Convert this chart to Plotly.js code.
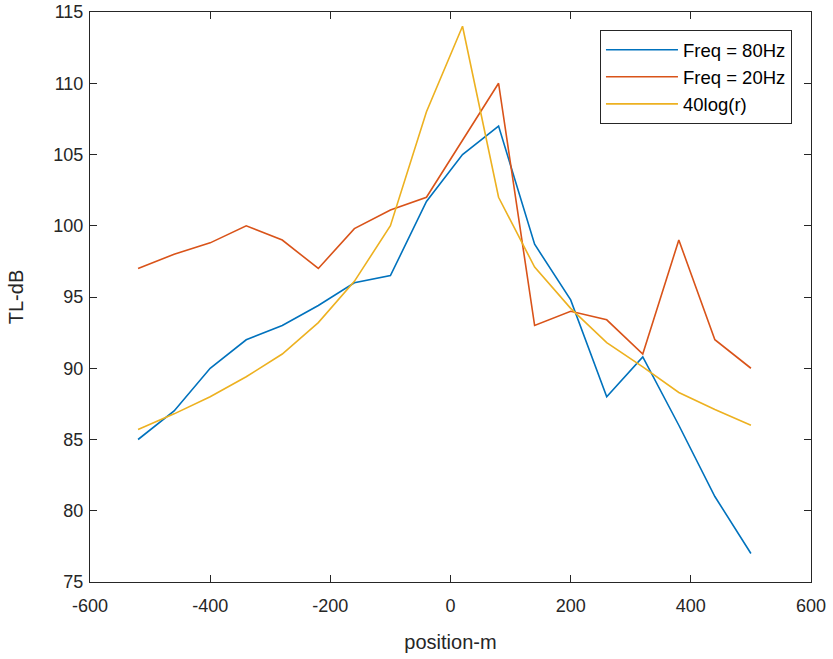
<!DOCTYPE html>
<html>
<head>
<meta charset="utf-8">
<script src="https://cdn.plot.ly/plotly-3.0.1.min.js"></script>
<style>html,body{margin:0;padding:0;background:#fff;}</style>
</head>
<body>
<div id="chart" style="width:833px;height:659px;"></div>
<script>
const positions = [-520, -460, -400, -340, -280, -220, -160, -100, -40, 20, 80, 140, 200, 260, 320, 380, 440, 500];
const freq80 = [85.0, 87.0, 90.0, 92.0, 93.0, 94.4, 96.0, 96.5, 101.7, 105.0, 107.0, 98.7, 94.8, 88.0, 90.8, 86.0, 81.0, 77.0];
const freq20 = [97.0, 98.0, 98.8, 100.0, 99.0, 97.0, 99.8, 101.1, 102.0, 106.0, 110.0, 93.0, 94.0, 93.4, 91.0, 99.0, 92.0, 90.0];
const log40 = [85.7, 86.8, 88.0, 89.4, 91.0, 93.2, 96.1, 100.0, 108.0, 114.0, 102.0, 97.1, 94.2, 91.8, 90.1, 88.3, 87.1, 86.0];
const seriesNames = ['Freq = 80Hz', 'Freq = 20Hz', '40log(r)'];
const xTicks = [-600, -400, -200, 0, 200, 400, 600];
const yTicks = [75, 80, 85, 90, 95, 100, 105, 110, 115];

const colors = ['#0072BD', '#D95319', '#EDB120'];
const font = 'Liberation Sans, Arial, Helvetica, sans-serif';
const ys = [freq80, freq20, log40];
const traces = ys.map((y, i) => ({
  x: positions, y: y, type: 'scatter', mode: 'lines', name: seriesNames[i],
  line: {color: colors[i], width: 1.6}
}));

const axisCommon = {
  showgrid: false, zeroline: false, showline: true, linecolor: '#262626', linewidth: 1,
  mirror: 'ticks', ticks: 'inside', ticklen: 7, tickcolor: '#262626', tickwidth: 1,
  tickfont: {family: font, size: 18, color: '#262626'}
};

const layout = {
  width: 833, height: 659,
  margin: {l: 90, r: 22, t: 12, b: 77},
  paper_bgcolor: '#fff', plot_bgcolor: '#fff',
  showlegend: true,
  xaxis: Object.assign({}, axisCommon, {
    range: [-600, 600], tickvals: xTicks, ticktext: xTicks.map(String),
    ticklabelstandoff: 7,
    title: {text: 'position-m', font: {family: font, size: 20, color: '#262626'}, standoff: 20}
  }),
  yaxis: Object.assign({}, axisCommon, {
    range: [75, 115], tickvals: yTicks, ticktext: yTicks.map(String),
    ticklabelstandoff: 2,
    title: {text: 'TL-dB', font: {family: font, size: 20, color: '#262626'}, standoff: 24}
  }),
  legend: {
    x: 0.9736, xanchor: 'right', y: 0.968, yanchor: 'top',
    bgcolor: '#fff', bordercolor: '#262626', borderwidth: 1,
    font: {family: font, size: 18.5, color: '#000'},
    itemwidth: 72
  }
};

Plotly.newPlot('chart', traces, layout, {displayModeBar: false, staticPlot: true});
</script>
</body>
</html>
